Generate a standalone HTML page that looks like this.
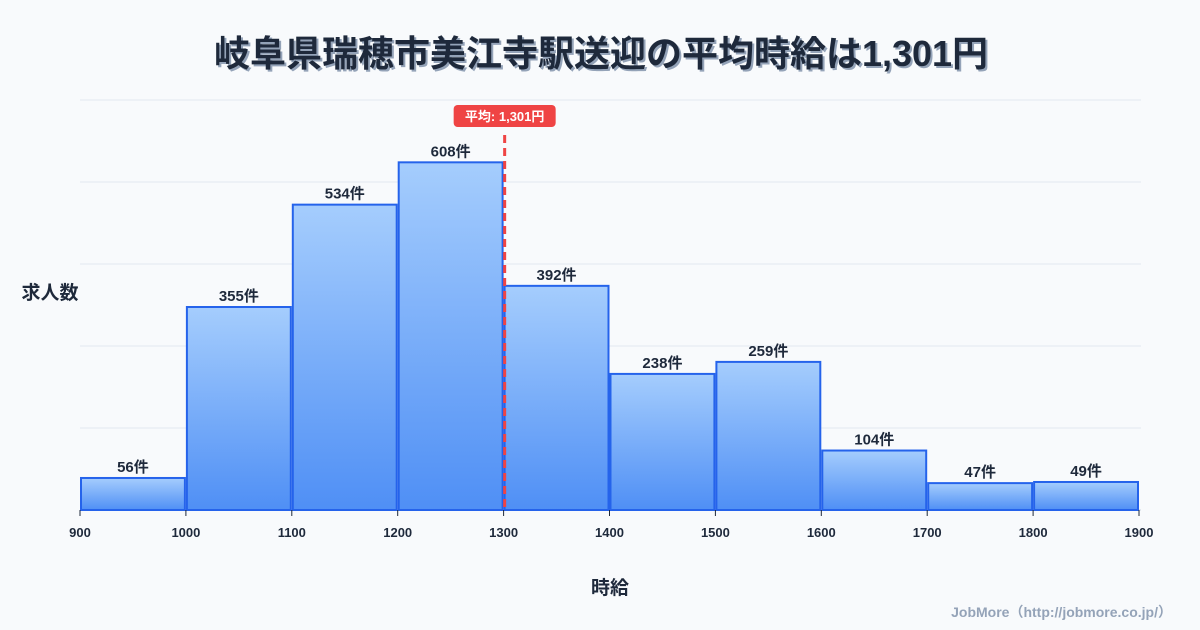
<!DOCTYPE html>
<html><head><meta charset="utf-8"><style>
html,body{margin:0;padding:0;background:#f8fafc;}
svg{display:block;font-family:"Liberation Sans","Noto Sans CJK JP",sans-serif;}
</style></head><body>
<svg id="chart" width="1200" height="630" viewBox="0 0 1200 630">
<defs>
<linearGradient id="bg" x1="0" y1="0" x2="0" y2="1">
<stop offset="0" stop-color="#a5cdfd"/><stop offset="1" stop-color="#4f8ff5"/>
</linearGradient>
</defs>
<rect width="1200" height="630" fill="#f8fafc"/>
<text x="603" y="68" text-anchor="middle" font-size="36" font-weight="bold" fill="#94a3b8">岐阜県瑞穂市美江寺駅送迎の平均時給は1,301円</text>
<text x="601" y="66" text-anchor="middle" font-size="36" font-weight="bold" fill="#1e293b">岐阜県瑞穂市美江寺駅送迎の平均時給は1,301円</text>
<g id="grid"></g>
<g id="bars"></g>
<g id="xticks"></g>
<g id="mean"></g>
<text x="50" y="299" text-anchor="middle" font-size="19" font-weight="bold" fill="#1e293b">求人数</text>
<text x="610" y="594" text-anchor="middle" font-size="19" font-weight="bold" fill="#1e293b">時給</text>
<text x="1172" y="617" text-anchor="end" font-size="14" font-weight="bold" fill="#94a3b8">JobMore（http://jobmore.co.jp/）</text>
</svg>
<script>
const binStarts=[900,1000,1100,1200,1300,1400,1500,1600,1700,1800];
const counts=[56,355,534,608,392,238,259,104,47,49];
const xTicks=[900,1000,1100,1200,1300,1400,1500,1600,1700,1800,1900];
const meanValue=1301;
const meanLabel="平均: 1,301円";
const NS="http://www.w3.org/2000/svg";
const plotX0=80,plotX1=1139,xMin=900,xMax=1900,plotBase=510,plotTop=100,yMax=717;
const sx=v=>plotX0+(v-xMin)/(xMax-xMin)*(plotX1-plotX0);
const sy=v=>plotBase-v/yMax*(plotBase-plotTop);
function mk(t,a,p){const e=document.createElementNS(NS,t);for(const k in a)e.setAttribute(k,a[k]);p.appendChild(e);return e;}
const grid=document.getElementById('grid');
for(let i=0;i<=5;i++){const y=plotTop+i*(plotBase-plotTop)/5;
const l=mk('line',{x1:plotX0,x2:1141,y1:y,y2:y,stroke:i==5?'#cbd5e1':'#e2e8f0','stroke-width':1},grid);

}
const bars=document.getElementById('bars');
binStarts.forEach((b,i)=>{
const xa=sx(b)+1,xb=sx(b+100)-1,y=sy(counts[i]);
const r=mk('rect',{x:xa,y:y,width:xb-xa,height:plotBase-y,fill:'url(#bg)',stroke:'#2563eb','stroke-width':2},bars);


const t=mk('text',{x:(xa+xb)/2,y:y-6,'text-anchor':'middle','font-size':15,'font-weight':'bold',fill:'#1e293b'},bars);
t.textContent=counts[i]+'件';


});
const xt=document.getElementById('xticks');
xTicks.forEach(v=>{
const l=mk('line',{x1:sx(v),x2:sx(v),y1:plotBase,y2:plotBase+6,stroke:'#1e293b','stroke-width':1},xt);


const t=mk('text',{x:sx(v),y:537,'text-anchor':'middle','font-size':13,'font-weight':'bold',fill:'#1e293b'},xt);
t.textContent=v;


});
const mg=document.getElementById('mean');
const mx=sx(meanValue);
const ml=mk('line',{x1:mx,x2:mx,y1:135,y2:plotBase,stroke:'#ef4444','stroke-width':3,'stroke-dasharray':'8,5'},mg);


const mr=mk('rect',{x:mx-51,y:105,width:102,height:22,rx:4,fill:'#ef4444'},mg);


const mt=mk('text',{x:mx,y:121,'text-anchor':'middle','font-size':13,'font-weight':'bold',fill:'#fff'},mg);
mt.textContent=meanLabel;


</script>
</body></html>
